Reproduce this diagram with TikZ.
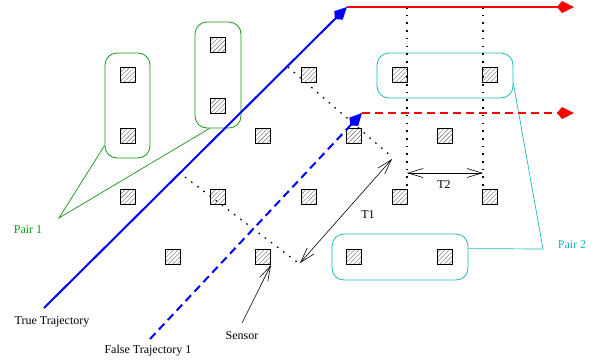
\documentclass[tikz,border=0pt]{standalone}
\usepackage{fontspec}
\setmainfont{Liberation Serif}
\usetikzlibrary{arrows.meta,patterns.meta}
\definecolor{pairgreen}{RGB}{20,150,20}
\definecolor{paircyan}{RGB}{30,185,190}
\definecolor{trajblue}{RGB}{0,0,255}
\definecolor{trajred}{RGB}{255,0,0}
\begin{document}
\begin{tikzpicture}[x=1pt,y=-1pt,
  font=\fontsize{12}{14}\selectfont,
  sensor/.style={draw=black, line width=0.9pt, minimum size=15pt, inner sep=0pt,
    pattern={Lines[angle=45,distance=3.2pt,line width=0.4pt]}, pattern color=black!60},
  pairbox/.style={draw, rounded corners=12pt, line width=0.8pt, inner sep=0pt},
  trajline/.style={line width=2pt},
  trajtip/.style={-{Kite[length=17pt,width=12pt,inset=5pt]}},
  dashline/.style={dash pattern=on 8pt off 5pt},
  guide/.style={line width=1.2pt, dash pattern=on 1.6pt off 6.1pt},
  measure/.style={line width=0.6pt},
  barbtip/.tip={Straight Barb[length=15pt,width=9pt]},
  label/.style={inner sep=0pt}
]
\useasboundingbox (0,0) rectangle (600,360);

% sensor field
\node[sensor] (s1)  at (128,75)  {};
\node[sensor] (s2)  at (218,45)  {};
\node[sensor] (s3)  at (309,75)  {};
\node[sensor] (s4)  at (400,75)  {};
\node[sensor] (s5)  at (490,75)  {};
\node[sensor] (s6)  at (218,106) {};
\node[sensor] (s7)  at (128,136) {};
\node[sensor] (s8)  at (263,136) {};
\node[sensor] (s9)  at (354,136) {};
\node[sensor] (s10) at (445,136) {};
\node[sensor] (s11) at (128,197) {};
\node[sensor] (s12) at (218,197) {};
\node[sensor] (s13) at (309,197) {};
\node[sensor] (s14) at (400,197) {};
\node[sensor] (s15) at (490,197) {};
\node[sensor] (s16) at (173,257) {};
\node[sensor] (s17) at (263,257) {};
\node[sensor] (s18) at (354,257) {};
\node[sensor] (s19) at (445,257) {};

% sensor pairs
\node[pairbox, draw=pairgreen, minimum width=45pt, minimum height=105pt] (p1a) at (127.5,105.5) {};
\node[pairbox, draw=pairgreen, minimum width=46pt, minimum height=106pt] (p1b) at (218,75) {};
\node[pairbox, draw=paircyan, minimum width=136pt, minimum height=45pt] (p2a) at (445,75.5) {};
\node[pairbox, draw=paircyan, minimum width=136pt, minimum height=46pt] (p2b) at (400,257) {};

\node[label, text=pairgreen] (pair1) at (28,230) {Pair 1};
\node[label, text=paircyan] (pair2) at (572,245) {Pair 2};
\coordinate (pair1join) at (59,218);
\coordinate (pair2join) at (543,249);

\draw[pairgreen, line width=0.7pt] ([yshift=13pt]p1a.south west) -- (pair1join)
  -- ([xshift=15pt]p1b.south west);
\draw[paircyan, line width=0.7pt] ([yshift=15pt]p2a.south east) -- (pair2join)
  -- ([yshift=-15pt]p2b.north east);

% guide lines
\coordinate (g1a) at (407,7);   \coordinate (g1b) at (407,188);
\coordinate (g2a) at (483,7);   \coordinate (g2b) at (483,188);
\coordinate (d1a) at (288,67);  \coordinate (d1b) at (392,157);
\coordinate (d2a) at (185,177); \coordinate (d2b) at (297,262);
\draw[guide] (g1a) -- (g1b);
\draw[guide] (g2a) -- (g2b);
\draw[guide] (d1a) -- (d1b);
\draw[guide] (d2a) -- (d2b);

% trajectories
\coordinate (tstart) at (44,308);
\coordinate (tbend) at (347,7);
\coordinate (tend) at (574,7);
\coordinate (fstart) at (150,339);
\coordinate (fbend) at (362,113);
\coordinate (fend) at (574,113);
\draw[trajline, trajblue, trajtip] (tstart) -- (tbend);
\draw[trajline, trajred, trajtip] (tbend) -- (tend);
\draw[trajline, trajblue, dashline, trajtip] (fstart) -- (fbend);
\draw[trajline, trajred, dashline, trajtip] (fbend) -- (fend);

% separations
\coordinate (t1a) at (392,159);
\coordinate (t1b) at (300,263);
\coordinate (t2a) at (407,173);
\coordinate (t2b) at (483,173);
\draw[measure, barbtip-barbtip] (t1b) -- (t1a);
\draw[measure, barbtip-barbtip] (t2a) -- (t2b);
\node[label] (t1) at (368,215) {T1};
\node[label] (t2) at (444,185) {T2};

% labels
\node[label] (truelab) at (52,322) {True Trajectory};
\node[label] (falselab) at (148,351) {False Trajectory 1};
\node[label] (sensorlab) at (242,336) {Sensor};
\coordinate (sensortail) at (242,323);
\draw[measure, -barbtip] (sensortail) -- (s17.south east);
\end{tikzpicture}
\end{document}
